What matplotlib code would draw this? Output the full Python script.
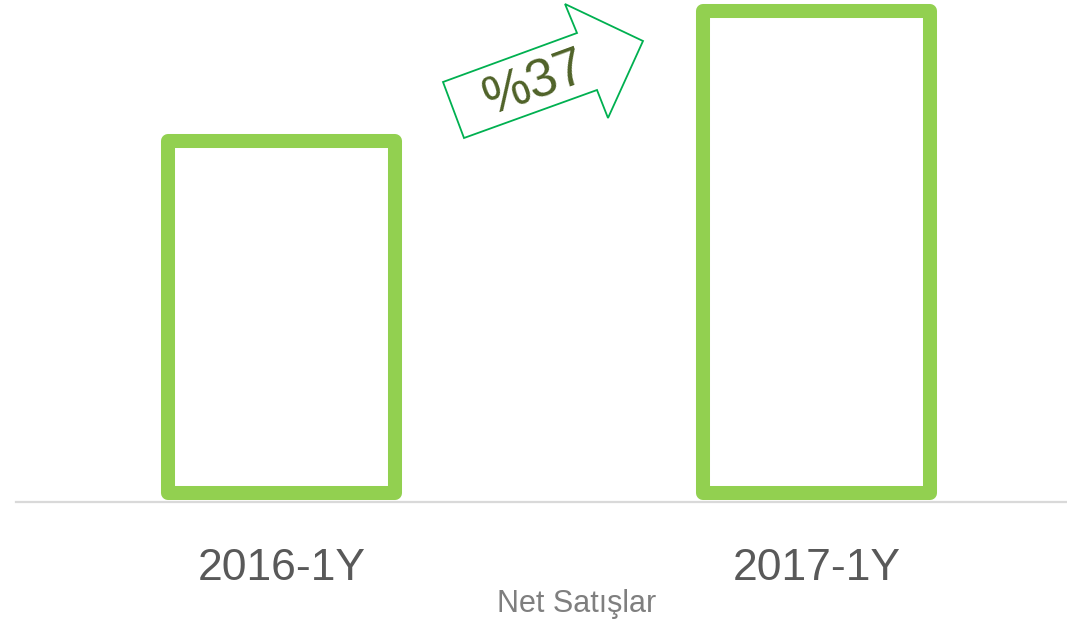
import numpy as np
import matplotlib.pyplot as plt
from matplotlib.patches import Polygon

categories = ['2016-1Y', '2017-1Y']
values = [100, 137]
growth_label = '%37'
series_name = 'Net Satışlar'

W, H = 1067, 625
fig = plt.figure(figsize=(W / 100, H / 100), dpi=100)
ax = fig.add_axes([16 / W, (H - 502) / H, (W - 16) / W, 502 / H])

x = np.arange(len(categories))
ax.bar(x, values, width=0.424, bottom=0, facecolor='white',
       edgecolor='#92D050', linewidth=10.1, joinstyle='round', zorder=2)

ax.set_xlim(-0.496, 1.467)
ax.set_ylim(-2.56, 140.06)
ax.set_yticks([])
ax.set_xticks(x)
ax.set_xticklabels(categories, fontsize=32, color='#595959',
                   family='Liberation Sans')
ax.tick_params(axis='x', length=0, pad=33)
for s in ['top', 'left', 'right']:
    ax.spines[s].set_visible(False)
ax.spines['bottom'].set_color('#D9D9D9')
ax.spines['bottom'].set_linewidth(1.6)

fig.text(577 / W, 1 - 604 / H, series_name, ha='center', va='center',
         fontsize=22, color='#7F7F7F', family='Liberation Sans')

# growth arrow (pixel coordinates of the shape)
arrow_px = [(443, 82), (464, 138), (597, 90), (608, 118),
            (643, 41), (565, 4), (577, 33)]
arrow = Polygon([(px / W, 1 - py / H) for px, py in arrow_px], closed=True,
                facecolor='white', edgecolor='#00B050', linewidth=1.3,
                transform=fig.transFigure)
fig.patches.append(arrow)
fig.text(535 / W, 1 - 84 / H, growth_label, ha='center', va='center',
         rotation=20, fontsize=38, color='#4F6228', family='Liberation Sans')

fig.savefig('out.png', dpi=100)
